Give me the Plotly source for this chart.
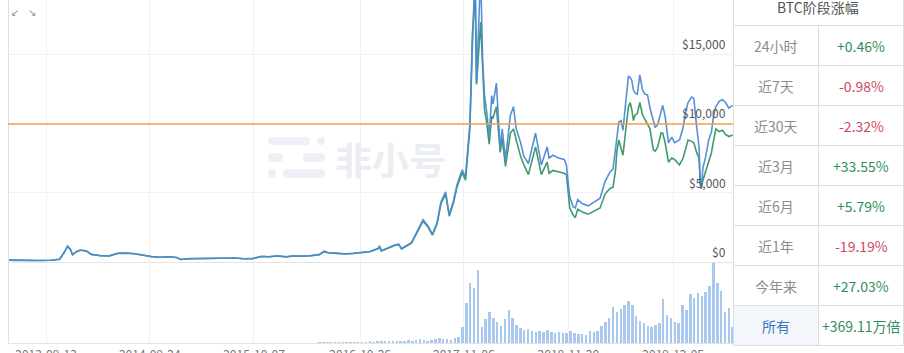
import plotly.graph_objects as go
import pandas as pd

W, H = 904, 353

# ---------------- data ----------------
dates = ["2013-04-28","2013-06-15","2013-08-15","2013-10-01","2013-11-01","2013-11-18","2013-11-30","2013-12-10",
 "2013-12-18","2013-12-31","2014-01-15","2014-02-05","2014-02-25","2014-03-31","2014-04-30","2014-05-31",
 "2014-06-30","2014-07-31","2014-08-31","2014-09-30","2014-10-31","2014-11-30","2014-12-31","2015-01-14",
 "2015-02-15","2015-03-31","2015-05-15","2015-06-30","2015-07-31","2015-08-31","2015-09-30","2015-11-04",
 "2015-11-30","2015-12-31","2016-01-31","2016-02-29","2016-03-31","2016-04-30","2016-05-31","2016-06-18",
 "2016-06-30","2016-07-31","2016-08-31","2016-09-30","2016-10-31","2016-11-30","2016-12-31","2017-01-04",
 "2017-01-11","2017-01-31","2017-02-28","2017-03-15","2017-03-25","2017-04-30","2017-05-25","2017-06-11",
 "2017-06-30","2017-07-15","2017-08-01","2017-08-15","2017-09-01","2017-09-14","2017-09-30","2017-10-12",
 "2017-10-31","2017-11-12","2017-11-28","2017-12-07","2017-12-17","2017-12-22","2018-01-06","2018-01-13",
 "2018-01-20","2018-01-28","2018-02-06","2018-02-15","2018-02-20","2018-03-04","2018-03-10","2018-03-18",
 "2018-03-25","2018-04-06","2018-04-24","2018-05-05","2018-05-15","2018-05-31","2018-06-12","2018-06-28",
 "2018-07-24","2018-08-01","2018-08-14","2018-09-04","2018-09-11","2018-09-25","2018-10-15","2018-11-05",
 "2018-11-13","2018-11-20","2018-11-25","2018-12-07","2018-12-15","2018-12-24","2019-01-10","2019-01-31",
 "2019-02-24","2019-03-15","2019-04-02","2019-04-20","2019-05-01","2019-05-10","2019-05-15","2019-05-22",
 "2019-05-30","2019-06-06","2019-06-16","2019-06-26","2019-07-02","2019-07-08","2019-07-14","2019-07-20",
 "2019-07-28","2019-08-06","2019-08-16","2019-08-25","2019-09-03","2019-09-12","2019-09-24","2019-10-01",
 "2019-10-10","2019-10-22","2019-10-28","2019-11-06","2019-11-18","2019-11-30","2019-12-10","2019-12-28",
 "2020-01-10","2020-01-18","2020-01-28","2020-02-10","2020-02-18","2020-02-28","2020-03-08","2020-03-12",
 "2020-03-16","2020-03-22","2020-04-01","2020-04-12","2020-04-22","2020-04-30","2020-05-08","2020-05-20",
 "2020-06-01","2020-06-12","2020-06-24","2020-07-08"]

price_green = [135,100,110,125,200,700,1120,900,
 520,730,850,800,540,450,440,620,
 640,590,480,390,340,375,320,180,
 235,245,235,260,285,230,236,400,
 375,430,370,435,415,450,530,760,
 670,625,575,610,700,740,960,1130,
 790,970,1190,1250,940,1350,2300,2950,
 2480,1930,2750,4200,4900,3300,4300,5400,
 6450,5900,9700,16500,19300,12800,17300,13500,
 11000,10000,8500,10500,10400,11200,9800,7900,
 8900,6900,9300,9600,8800,7600,7000,6300,
 8300,7600,6300,7200,6400,6600,6500,6400,
 6300,4800,3900,3400,3200,3800,3600,3450,
 3700,3900,4900,5300,5400,6600,8000,8800,
 8200,7700,9500,11200,11500,11000,10200,10600,
 10700,11500,10600,10300,10000,9600,8100,8000,
 8300,9300,9300,8600,7200,7500,7400,7000,
 7500,8100,8800,8700,8600,7900,7500,5800,
 5300,5900,6600,7200,7900,8800,9600,9400,
 9500,9200,9050,9150]

price_blue = [135,100,110,125,200,700,1150,920,
 530,740,860,810,550,455,445,630,
 650,600,485,395,345,380,325,185,
 240,250,240,265,290,235,240,410,
 380,440,380,445,425,460,540,780,
 690,640,590,625,720,760,990,1160,
 810,1000,1230,1290,970,1400,2400,3050,
 2580,2000,2850,4350,5050,3400,4450,5550,
 6650,6100,10000,17500,21500,12900,21000,14600,
 12000,10800,9000,12000,11400,12900,11000,8100,
 9600,7400,10600,11200,9600,8600,7600,7100,
 9300,8400,7000,8300,7500,7700,7500,7400,
 7000,5600,4700,4000,3900,4500,4200,4050,
 4350,4600,5800,6500,6700,8100,9200,10100,
 10200,9500,11500,13400,13300,13100,12400,12200,
 12100,13500,12400,12100,12050,11100,10200,9700,
 9900,11000,11300,10500,8600,9000,8600,8800,
 9700,10700,11500,11900,11800,9800,8300,5700,
 5300,6800,7600,8800,9400,10600,11200,11600,
 11700,11500,11100,11300]

ref_price = 9950  # orange reference line

# volume (billion USD), one bar every 14 days from vol_start
vol_start = "2016-06-01"
volume = [0.6,0.7,0.6,0.8,0.7,0.6,0.7,0.8,0.7,0.9,0.8,1.0,0.9,1.1,1.0,1.2,1.3,1.2,1.5,1.4,1.8,
 2,2,3,2,3,4,3,2,3,4,5,4,4,3,5,6,
 16,40,61,56,74,16,24,31,25,21,17,24,33,25,18,15,13,14,12,11,12,11,13,11,10,11,10,10,12,10,
 9,9,8,12,11,12,17,21,25,36,31,34,38,43,38,27,22,20,17,16,18,20,45,28,25,21,20,38,33,50,
 46,51,48,52,58,81,61,53,31,35,16]

grid_dates = ["2013-09-13","2014-09-24","2015-10-07","2016-10-26","2017-11-06","2018-11-20","2019-12-05"]
price_ticks = [0, 5000, 10000, 15000]
price_tick_labels = ["$0", "$5,000", "$10,000", "$15,000"]

table_title = "BTC阶段涨幅"
period_labels = ["24小时", "近7天", "近30天", "近3月", "近6月", "近1年", "今年来", "所有"]
period_values = ["+0.46%", "-0.98%", "-2.32%", "+33.55%", "+5.79%", "-19.19%", "+27.03%", "+369.11万倍"]

# ---------------- helpers ----------------
def px(x):
    return x / W

def py(y):
    return 1 - y / H

FONT = "Noto Sans CJK SC"
X0, X1 = 8, 733          # plot area (pixels)
Y_ZERO, Y_BOTTOM = 262, 343
Y15K = 54

vol_dates = pd.date_range(vol_start, periods=len(volume), freq="14D")

fig = go.Figure()
fig.add_trace(go.Scatter(x=dates, y=price_green, mode="lines",
                         line=dict(color="#3f9b6c", width=1.6), xaxis="x", yaxis="y",
                         hoverinfo="skip"))
fig.add_trace(go.Scatter(x=dates, y=price_blue, mode="lines",
                         line=dict(color="#4d8bd4", width=1.6), xaxis="x", yaxis="y",
                         hoverinfo="skip", opacity=0.95))
fig.add_trace(go.Bar(x=vol_dates, y=volume, marker=dict(color="#a9c8f0", line=dict(width=0)),
                     width=9 * 86400000, xaxis="x", yaxis="y2", hoverinfo="skip"))

shapes = []
# chart frame lines
line_c = "#e4e4e4"
shapes.append(dict(type="line", xref="paper", yref="paper", x0=px(X0 + 0.5), x1=px(X0 + 0.5),
                   y0=py(Y_BOTTOM), y1=1, line=dict(color="#e0e0e0", width=1)))
shapes.append(dict(type="line", xref="paper", yref="paper", x0=px(X0), x1=px(X1),
                   y0=py(Y_ZERO + 0.5), y1=py(Y_ZERO + 0.5), line=dict(color=line_c, width=1)))
shapes.append(dict(type="line", xref="paper", yref="paper", x0=px(X0), x1=px(X1),
                   y0=py(Y_BOTTOM + 0.5), y1=py(Y_BOTTOM + 0.5), line=dict(color=line_c, width=1)))
# orange reference line
shapes.append(dict(type="line", xref="paper", yref="y", x0=px(X0), x1=px(X1), y0=ref_price, y1=ref_price,
                   line=dict(color="#f0a04b", width=1.5), layer="above"))

# watermark logo (pills)
def pill(x0, x1, y0, y1, color="#edf0f5"):
    r = (y1 - y0) / 2
    r = min(r, (x1 - x0) / 2)
    P = lambda x, y: f"{px(x):.5f},{py(y):.5f}"
    path = (f"M {P(x0 + r, y0)} L {P(x1 - r, y0)} Q {P(x1, y0)} {P(x1, y0 + r)} "
            f"Q {P(x1, y1)} {P(x1 - r, y1)} L {P(x0 + r, y1)} Q {P(x0, y1)} {P(x0, y0 + r)} "
            f"Q {P(x0, y0)} {P(x0 + r, y0)} Z")
    return dict(type="path", path=path, xref="paper", yref="paper", fillcolor=color,
                line=dict(width=0), layer="below")

shapes += [pill(268, 310, 137, 145), pill(317, 325, 137, 145),
           pill(268, 283, 153, 162), pill(303, 325, 153, 162),
           pill(268, 276, 169, 178), pill(283, 325, 169, 178)]

# table
tl = "#dedede"
shapes.append(dict(type="rect", xref="paper", yref="paper", x0=px(734), x1=px(818), y0=py(345), y1=py(306),
                   fillcolor="#f3f6fb", line=dict(width=0), layer="below"))
for yy in [25, 65, 105, 145, 185, 225, 265, 305, 345]:
    shapes.append(dict(type="line", xref="paper", yref="paper", x0=px(733), x1=1,
                       y0=py(yy + 0.5), y1=py(yy + 0.5), line=dict(color=tl, width=1)))
shapes.append(dict(type="line", xref="paper", yref="paper", x0=px(733.5), x1=px(733.5), y0=py(345.5), y1=1,
                   line=dict(color=tl, width=1)))
shapes.append(dict(type="line", xref="paper", yref="paper", x0=px(818.5), x1=px(818.5), y0=py(345.5), y1=py(25),
                   line=dict(color=tl, width=1)))
shapes.append(dict(type="line", xref="paper", yref="paper", x0=px(903.5), x1=px(903.5), y0=py(345.5), y1=1,
                   line=dict(color=tl, width=1)))

annotations = []
# y labels
for v, t in zip(price_ticks, price_tick_labels):
    annotations.append(dict(text=t, x=px(728), xref="paper", xanchor="right", y=v, yref="y",
                            yanchor="bottom", showarrow=False, font=dict(family=FONT, size=12, color="#555")))

def label(text, x, y, size, color, family=FONT):
    return dict(text=text, x=px(x), y=py(y), xref="paper", yref="paper", xanchor="center",
                yanchor="middle", showarrow=False, font=dict(family=family, size=size, color=color))

# watermark text
annotations.append(label("<b>非小号</b>", 390, 159, 37, "#eaedf2"))
# top-left icons
annotations.append(label("↙", 15, 12, 10, "#8a8a8a", "DejaVu Sans"))
annotations.append(label("↘", 32, 12, 10, "#8a8a8a", "DejaVu Sans"))
# table texts
annotations.append(label(table_title, 818, 7, 14, "#555"))
for i, (lab, val) in enumerate(zip(period_labels, period_values)):
    yc = 46 + 40 * i
    is_last = i == len(period_labels) - 1
    lab_c = "#3a78bd" if is_last else "#8c8c8c"
    val_c = "#2f8f5b" if val.startswith("+") else "#d04a5c"
    annotations.append(label(lab, 775.5, yc, 14, lab_c))
    annotations.append(label(val, 861, yc, 14, val_c))

price_top = 15000 * (Y_ZERO - 0) / (Y_ZERO - Y15K)

fig.update_layout(
    width=W, height=H,
    margin=dict(l=0, r=0, t=0, b=0, pad=0, autoexpand=False),
    paper_bgcolor="white", plot_bgcolor="white",
    showlegend=False, hovermode=False, bargap=0,
    font=dict(family=FONT),
    xaxis=dict(type="date", range=["2013-04-28", "2020-07-09"], domain=[px(X0), px(X1)], anchor="y2",
               tickvals=grid_dates, ticktext=grid_dates, showgrid=True, gridcolor="#f1f1f1",
               zeroline=False, showline=False, ticks="", automargin=False, ticklabelstandoff=3,
               tickfont=dict(size=12, color="#777")),
    yaxis=dict(domain=[py(Y_ZERO), 1], range=[0, price_top], tickvals=price_ticks, showticklabels=False,
               showgrid=True, gridcolor="#f1f1f1", zeroline=False, showline=False, automargin=False),
    yaxis2=dict(domain=[py(Y_BOTTOM), py(Y_ZERO)], range=[0, 82], showticklabels=False, showgrid=False,
                zeroline=False, showline=False, automargin=False),
    shapes=shapes, annotations=annotations,
)

fig.write_html("out.html", config={"displayModeBar": False})
